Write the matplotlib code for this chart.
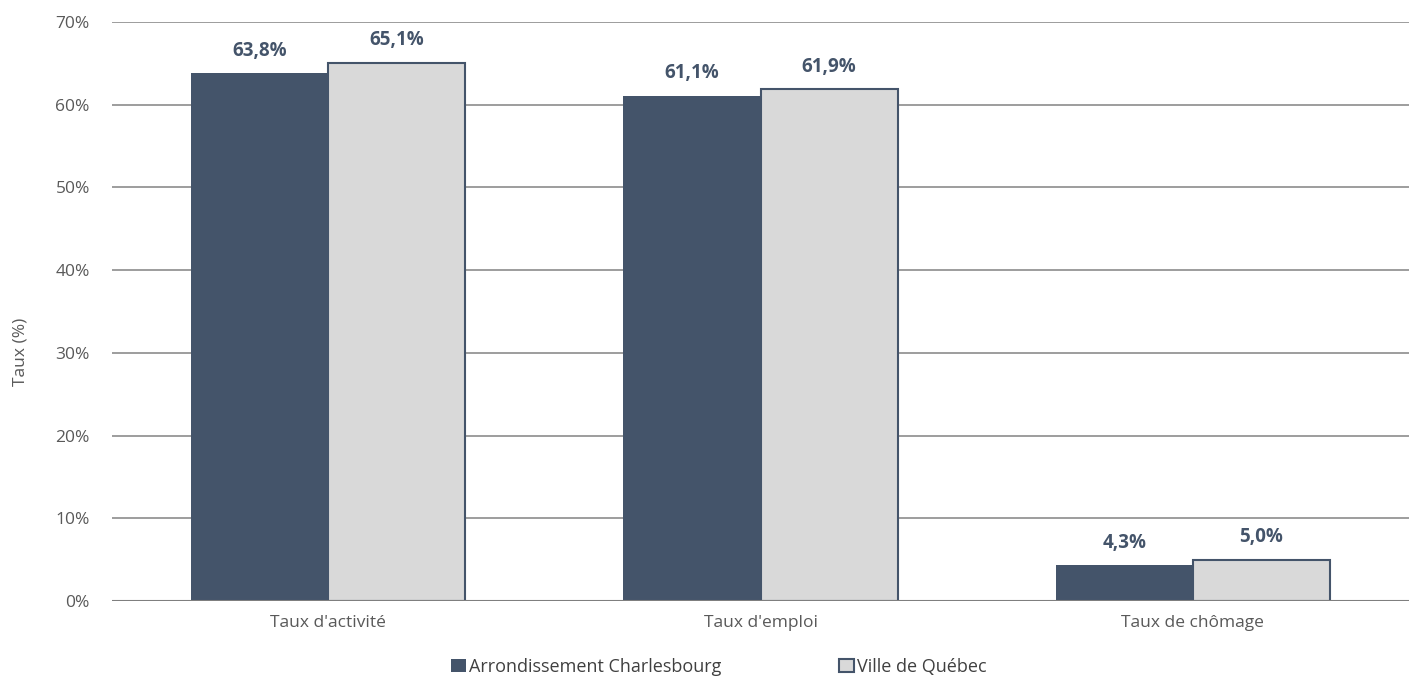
import matplotlib.pyplot as plt
from matplotlib.ticker import FuncFormatter
import numpy as np

plt.rcParams['font.family'] = ['Open Sans', 'DejaVu Sans']

categories = ["Taux d'activité", "Taux d'emploi", "Taux de chômage"]
charlesbourg = [63.8, 61.1, 4.3]
quebec = [65.1, 61.9, 5.0]
series_names = ["Arrondissement Charlesbourg", "Ville de Québec"]

dark = '#44546A'
light = '#D9D9D9'

fig = plt.figure(figsize=(14.09, 6.79), dpi=100)
ax = fig.add_axes([0.0795, 0.115, 0.9205, 0.8525])

x = np.arange(len(categories))
w = 0.317
b1 = ax.bar(x - w / 2, charlesbourg, w, color=dark, label=series_names[0], zorder=3)
b2 = ax.bar(x + w / 2, quebec, w, color=light, edgecolor=dark, linewidth=1.5,
            label=series_names[1], zorder=3)

for bars, vals in ((b1, charlesbourg), (b2, quebec)):
    for r, v in zip(bars, vals):
        ax.text(r.get_x() + r.get_width() / 2, v + 1.5, f"{v:.1f}%".replace('.', ','),
                ha='center', va='bottom', fontsize=13.5, fontweight='bold', color=dark)

ax.set_xlim(-0.5, 2.5)
ax.set_ylim(0, 70)
ax.set_yticks(range(0, 71, 10))
ax.yaxis.set_major_formatter(FuncFormatter(lambda v, p: f"{int(v)}%"))
ax.set_xticks(x)
ax.set_xticklabels(categories)
ax.tick_params(axis='both', colors='#595959', labelsize=12.5, length=0)
ax.tick_params(axis='y', pad=16)
ax.tick_params(axis='x', pad=10)
ax.grid(axis='y', color='#8C8C8C', linewidth=1.2, zorder=0)
for s in ax.spines.values():
    s.set_visible(False)
ax.axhline(0, color='#7F7F7F', linewidth=1.5, zorder=4)

ax.set_ylabel("Taux (%)", color='#595959', fontsize=12.5)
ax.yaxis.set_label_coords(-0.0645, 0.43)

ax.legend(loc='upper center', bbox_to_anchor=(0.468, -0.07), ncol=2, frameon=False,
          fontsize=13, handlelength=0.8, handleheight=0.8, handletextpad=0.2,
          columnspacing=6.5, labelcolor='#404040')

fig.savefig('out.png', dpi=100)
